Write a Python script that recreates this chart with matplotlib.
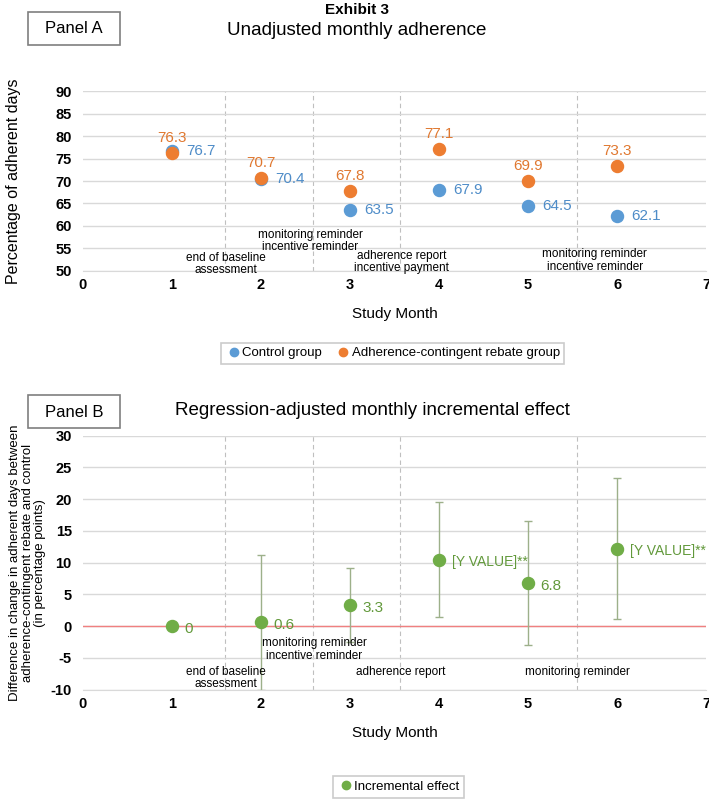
import matplotlib
matplotlib.use("Agg")
import matplotlib.pyplot as plt
from matplotlib.lines import Line2D
from matplotlib.patches import Rectangle

# data
months = [1, 2, 3, 4, 5, 6]
control = [76.7, 70.4, 63.5, 67.9, 64.5, 62.1]
rebate = [76.3, 70.7, 67.8, 77.1, 69.9, 73.3]

effect = [0, 0.6, 3.3, 10.5, 6.8, 12.2]
effect_err = [0, 10.6, 5.8, 9.0, 9.8, 11.1]
effect_labels = ["0", "0.6", "3.3", "[Y VALUE]**", "6.8", "[Y VALUE]**"]

event_x = [1.6, 2.58, 3.56, 5.55]
events_a = [(1.61, 51.5, "end of baseline\nassessment"),
            (2.55, 56.6, "monitoring reminder\nincentive reminder"),
            (3.58, 51.9, "adherence report\nincentive payment"),
            (5.75, 52.3, "monitoring reminder\nincentive reminder")]
events_b = [(1.61, -8.2, "end of baseline\nassessment"),
            (2.6, -3.7, "monitoring reminder\nincentive reminder"),
            (3.57, -7.2, "adherence report"),
            (5.55, -7.2, "monitoring reminder")]

BLUE = "#5B9BD5"
ORANGE = "#ED7D31"
GREEN = "#70AD47"
GRID = "#D9D9D9"

plt.rcParams["font.family"] = ["Liberation Sans", "DejaVu Sans"]
plt.rcParams["axes.unicode_minus"] = False

fig = plt.figure(figsize=(7.09, 8.01), dpi=100)
axA = fig.add_axes([0.117, 0.662, 0.879, 0.224])
axB = fig.add_axes([0.117, 0.139, 0.879, 0.317])


def style_axis(ax, ylim, yticks):
    ax.set_xlim(0, 7)
    ax.set_ylim(*ylim)
    ax.set_yticks(yticks)
    ax.set_xticks(range(0, 8))
    ax.grid(axis="y", color=GRID, linewidth=1)
    ax.set_axisbelow(True)
    for s in ["top", "right", "left"]:
        ax.spines[s].set_visible(False)
    ax.spines["bottom"].set_color(GRID)
    ax.tick_params(length=0, labelsize=10.5)
    ax.tick_params(axis="x", pad=5)
    ax.tick_params(axis="y", pad=8)
    for lab in ax.get_xticklabels() + ax.get_yticklabels():
        lab.set_fontweight("bold")
    for xv in event_x:
        ax.axvline(xv, color="#BFBFBF", linestyle=(0, (4, 3)), linewidth=0.8, zorder=0)
    ax.set_xlabel("Study Month", fontsize=11, labelpad=11)


# Panel A
style_axis(axA, (50, 90), range(50, 91, 5))
axA.scatter(months, control, s=75, color=BLUE, zorder=3, label="Control group")
axA.scatter(months, rebate, s=75, color=ORANGE, zorder=4, label="Adherence-contingent rebate group")
for m, c in zip(months, control):
    axA.text(m + 0.16, c, f"{c}", color="#4E8CC8", fontsize=11, va="center")
for m, r in zip(months, rebate):
    axA.text(m, r + 3.4, f"{r}", color="#E07830", fontsize=11, ha="center", va="center")
for x, y, t in events_a:
    axA.text(x, y, t, ha="center", va="center", fontsize=8.5, linespacing=1.05)
axA.set_ylabel("Percentage of adherent days", fontsize=11.5)
axA.yaxis.set_label_coords(-0.1, 0.5)
legA = fig.legend(handles=[Line2D([], [], marker="o", ls="", color=BLUE, markersize=6),
                           Line2D([], [], marker="o", ls="", color=ORANGE, markersize=6)],
                  labels=["Control group", "Adherence-contingent rebate group"],
                  loc="center", bbox_to_anchor=(0.554, 0.559), ncol=2, fontsize=9.5,
                  frameon=True, fancybox=False, edgecolor="#BFBFBF",
                  handletextpad=0.05, columnspacing=1.0, borderpad=0.35,
                  handlelength=1.2)
legA.get_frame().set_linewidth(1.2)

# Panel B
style_axis(axB, (-10, 30), range(-10, 31, 5))
axB.axhline(0, color="#F08080", linewidth=1, zorder=1)
axB.errorbar(months[1:], effect[1:], yerr=effect_err[1:], fmt="none",
             ecolor="#9DB08A", elinewidth=1, capsize=3, capthick=1, zorder=2)
axB.scatter(months, effect, s=75, color=GREEN, zorder=3, label="Incremental effect")
for m, v, t in zip(months, effect, effect_labels):
    axB.text(m + 0.14, v - 0.4, t, color="#62993B", va="center",
             fontsize=10 if "Y" in t else 11)
for x, y, t in events_b:
    axB.text(x, y, t, ha="center", va="center", fontsize=8.5, linespacing=1.05)
axB.set_ylabel("Difference in change in adherent days between\n"
               "adherence-contingent rebate and control\n(in percentage points)",
               fontsize=9.5, linespacing=1.05)
axB.yaxis.set_label_coords(-0.059, 0.5)
legB = fig.legend(handles=[Line2D([], [], marker="o", ls="", color=GREEN, markersize=6)],
                  labels=["Incremental effect"],
                  loc="center", bbox_to_anchor=(0.562, 0.0175), fontsize=9.5,
                  frameon=True, fancybox=False, edgecolor="#BFBFBF",
                  handletextpad=0.05, borderpad=0.35, handlelength=1.2)
legB.get_frame().set_linewidth(1.2)

# titles and panel boxes
fig.text(0.503, 0.987, "Exhibit 3", ha="center", va="center", fontsize=11,
         fontweight="bold")
fig.text(0.503, 0.962, "Unadjusted monthly adherence", ha="center", va="center",
         fontsize=13.5)
fig.text(0.526, 0.488, "Regression-adjusted monthly incremental effect", ha="center",
         va="center", fontsize=13.5)
for y0, yc, label in [(0.9438, 0.9644, "Panel A"), (0.4657, 0.4856, "Panel B")]:
    fig.patches.append(Rectangle((0.0395, y0), 0.13, 0.041, transform=fig.transFigure,
                                 fill=True, fc="white", ec="#7F7F7F", lw=1.2))
    fig.text(0.1045, yc, label, ha="center", va="center", fontsize=12)

fig.savefig("out.png", dpi=100)
